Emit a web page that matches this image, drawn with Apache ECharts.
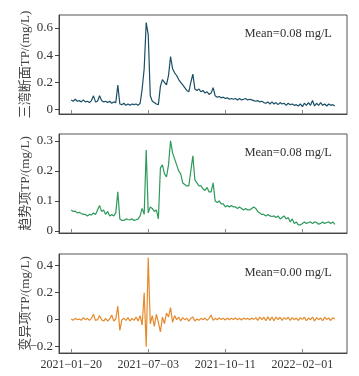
<!DOCTYPE html>
<html><head><meta charset="utf-8">
<script src="https://cdn.jsdelivr.net/npm/echarts@6/dist/echarts.min.js"></script>
<style>html,body{margin:0;padding:0;background:#fff}#c{width:359px;height:376px}</style>
</head><body><div id="c"></div>
<script>
// Sample slots on the index-based x axis (143 slots); data occupies slots 6..136
const nSlots = 143;
const dataStart = 6;
const tickIdx = [6, 44, 82, 120];
const tickLabels = ['2021−01−20', '2021−07−03', '2021−10−11', '2022−02−01'];

const seriesNames = ['三湾断面TP/(mg/L)', '趋势项TP/(mg/L)', '变异项TP/(mg/L)'];
const meanLabels = ['Mean=0.08 mg/L', 'Mean=0.08 mg/L', 'Mean=0.00 mg/L'];

const observed = [
 0.07,0.06,0.075,0.06,0.065,0.055,0.07,0.055,0.06,0.05,
 0.065,0.1,0.055,0.06,0.1,0.065,0.055,0.06,0.05,0.06,
 0.045,0.055,0.05,0.18,0.04,0.035,0.045,0.03,0.04,0.03,
 0.04,0.035,0.04,0.03,0.045,0.15,0.3,0.64,0.55,0.1,
 0.06,0.05,0.04,0.035,0.17,0.22,0.2,0.18,0.25,0.39,
 0.3,0.27,0.25,0.22,0.2,0.18,0.16,0.14,0.13,0.2,
 0.26,0.15,0.14,0.15,0.13,0.14,0.12,0.13,0.11,0.12,
 0.16,0.1,0.09,0.095,0.085,0.09,0.08,0.085,0.075,0.08,
 0.075,0.08,0.07,0.08,0.07,0.075,0.08,0.07,0.075,0.07,
 0.065,0.06,0.065,0.055,0.06,0.05,0.045,0.055,0.04,0.055,
 0.04,0.05,0.035,0.05,0.04,0.045,0.03,0.045,0.035,0.04,
 0.03,0.035,0.025,0.04,0.02,0.045,0.03,0.05,0.03,0.065,
 0.025,0.045,0.03,0.05,0.03,0.04,0.025,0.04,0.03,0.035,0.025
];
const trend = [
 0.07,0.065,0.066,0.06,0.062,0.058,0.055,0.055,0.05,0.055,
 0.053,0.06,0.055,0.07,0.085,0.065,0.07,0.055,0.065,0.05,
 0.055,0.05,0.06,0.13,0.04,0.035,0.035,0.04,0.038,0.037,
 0.04,0.035,0.037,0.04,0.05,0.075,0.055,0.27,0.06,0.08,
 0.075,0.065,0.07,0.04,0.21,0.22,0.19,0.18,0.22,0.3,
 0.26,0.24,0.22,0.2,0.19,0.16,0.155,0.15,0.15,0.2,
 0.25,0.17,0.16,0.15,0.15,0.14,0.135,0.145,0.13,0.13,
 0.16,0.1,0.095,0.1,0.09,0.09,0.08,0.085,0.08,0.085,
 0.08,0.08,0.075,0.08,0.075,0.07,0.075,0.07,0.07,0.075,
 0.08,0.075,0.065,0.06,0.055,0.055,0.05,0.055,0.05,0.048,
 0.05,0.045,0.05,0.04,0.045,0.05,0.04,0.045,0.03,0.04,
 0.025,0.03,0.02,0.02,0.025,0.03,0.025,0.028,0.03,0.025,
 0.03,0.028,0.022,0.025,0.03,0.025,0.028,0.03,0.025,0.03,0.022
];
const residual = [
 0.005,-0.005,0.01,0,0.005,-0.005,0.015,0,0.01,-0.005,
 0.01,0.04,-0.005,0,0.03,0,-0.01,0.01,-0.01,0.005,
 0.035,-0.01,0.005,0.1,-0.08,0,0.01,-0.005,0.015,-0.01,
 0.01,-0.005,0.02,-0.01,0.03,-0.04,0.2,-0.2,0.46,-0.03,
 0.03,-0.05,0.04,-0.02,-0.09,0.02,-0.03,0.05,0.02,0.09,
 -0.02,0.03,0,0.02,-0.01,0.015,0,0.01,-0.01,0.01,
 0.02,-0.01,0.005,-0.005,0.01,0,0.012,-0.005,0.01,0.035,
 -0.005,0.01,0,0.012,0.002,0.01,-0.002,0.012,0,0.01,
 0.002,0.012,0,0.01,-0.002,0.012,0.003,0.01,0,0.012,
 0.002,0.015,-0.005,0.02,0,0.018,-0.008,0.022,-0.005,0.02,
 -0.008,0.02,0,0.018,-0.005,0.015,0.002,0.018,-0.005,0.015,
 0,0.012,-0.006,0.015,0.002,0.018,-0.008,0.012,0,0.02,
 -0.01,0.015,0,0.012,-0.008,0.018,0.002,0.012,-0.006,0.015,0.005
];

const yRanges = [[-0.034, 0.696], [-0.007, 0.323], [-0.247, 0.487]];
const yTicks = [[0, 0.2, 0.4, 0.6], [0, 0.1, 0.2, 0.3], [-0.2, 0, 0.2, 0.4]];
const colors = ['#1b4f66', '#2e9a5c', '#e58a2c'];

const allData = [observed, trend, residual];
const cats = Array.from({length: nSlots}, (_, i) => String(i));
function pad(arr) {
  const out = new Array(nSlots).fill(null);
  arr.forEach((v, k) => { out[dataStart + k] = v; });
  return out;
}
function fmtNum(v) {
  if (Math.abs(v) < 1e-9) return '0';
  const s = (Math.round(v * 10) / 10).toFixed(1);
  return s.replace('-', '−');
}

const FONT = '"Liberation Serif","Noto Sans CJK SC",serif';
const tops = [15, 134, 254];
const H = 99;
const grids = [], xAxes = [], yAxes = [], series = [], titles = [];
for (let p = 0; p < 3; p++) {
  grids.push({left: 59, right: 12, top: tops[p], height: H, show: true,
    borderColor: '#555', borderWidth: 1, backgroundColor: 'transparent'});
  xAxes.push({type: 'category', gridIndex: p, data: cats, boundaryGap: false,
    axisLine: {show: true, onZero: false, lineStyle: {color: '#444', width: 1}},
    axisTick: {show: true, inside: true, length: 4, alignWithLabel: true,
      interval: (idx) => tickIdx.includes(idx), lineStyle: {color: '#888'}},
    axisLabel: {show: p === 2, interval: (idx) => tickIdx.includes(idx),
      formatter: (val, idx) => tickLabels[tickIdx.indexOf(Number(val))] || '',
      fontFamily: FONT, fontSize: 12, color: '#333', margin: 6},
    splitLine: {show: false}});
  yAxes.push({type: 'value', gridIndex: p, min: yRanges[p][0], max: yRanges[p][1],
    name: seriesNames[p], nameLocation: 'middle', nameGap: 27, nameMoveOverlap: false,
    nameTextStyle: {fontFamily: FONT, fontSize: 13, color: '#444'},
    axisLine: {show: true, onZero: false, lineStyle: {color: '#444', width: 1}},
    axisTick: {show: true, inside: false, length: 4, customValues: yTicks[p], lineStyle: {color: '#444'}},
    axisLabel: {customValues: yTicks[p], formatter: fmtNum, fontFamily: FONT,
      fontSize: 13, color: '#333', margin: 6},
    splitLine: {show: false}});
  series.push({type: 'line', xAxisIndex: p, yAxisIndex: p, data: pad(allData[p]),
    showSymbol: false, symbol: 'none', connectNulls: false, animation: false,
    lineStyle: {color: colors[p], width: 1.2}});
  titles.push({text: meanLabels[p], right: 22, top: tops[p] + 7,
    textStyle: {fontFamily: FONT, fontSize: 12.5, fontWeight: 'normal', color: '#333'}});
}

const chart = echarts.init(document.getElementById('c'), null, {renderer: 'canvas'});
chart.setOption({animation: false, title: titles, grid: grids, xAxis: xAxes, yAxis: yAxes, series: series});
</script></body></html>
